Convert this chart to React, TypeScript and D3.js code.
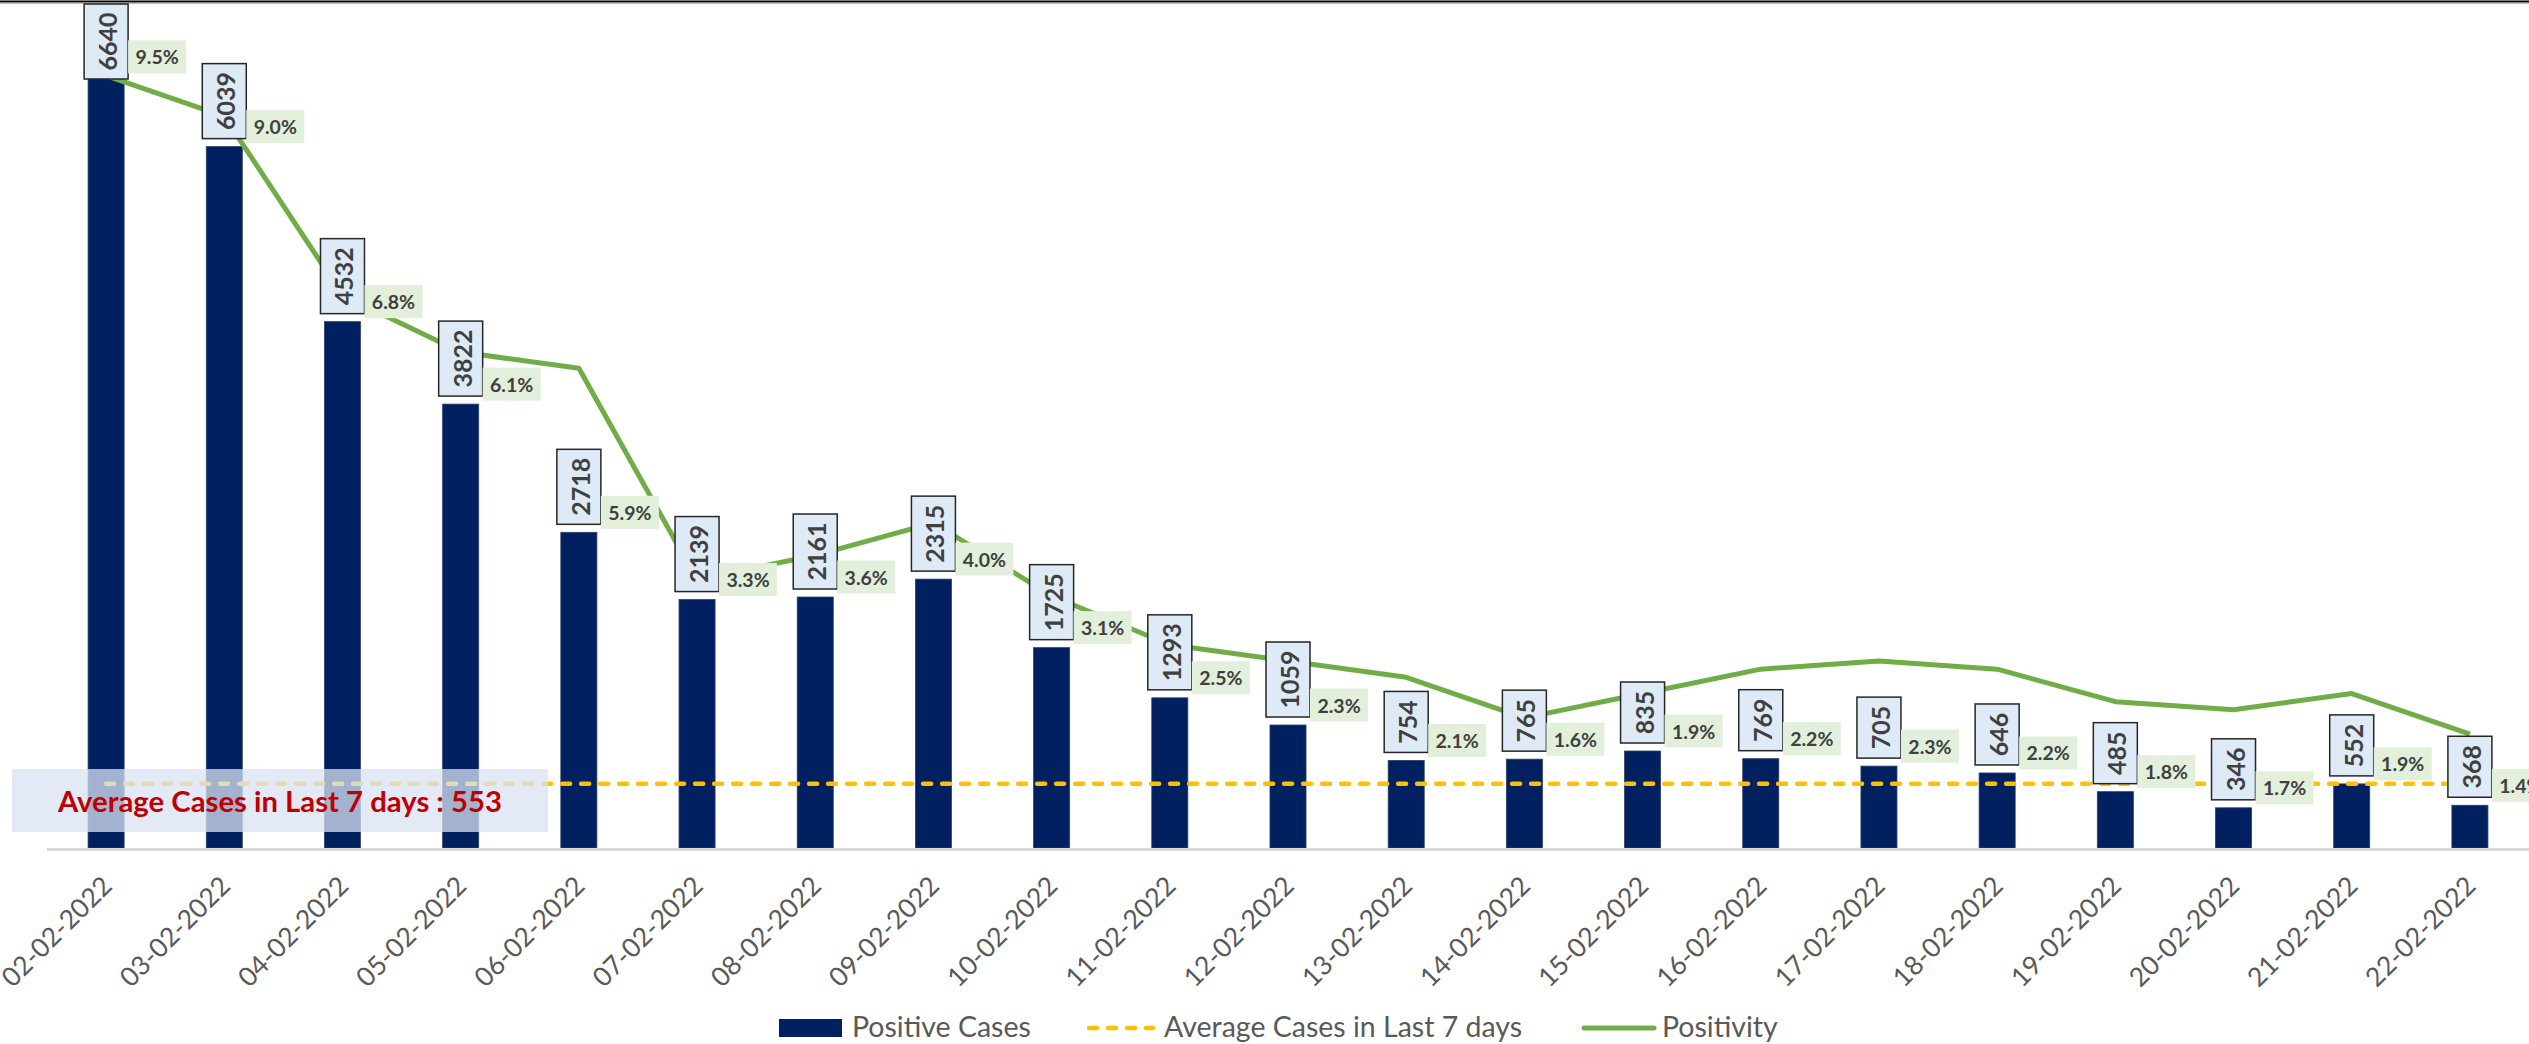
import React from "react";
import * as d3 from "d3";

const dates = [
  "02-02-2022", "03-02-2022", "04-02-2022", "05-02-2022", "06-02-2022", "07-02-2022",
  "08-02-2022", "09-02-2022", "10-02-2022", "11-02-2022", "12-02-2022", "13-02-2022",
  "14-02-2022", "15-02-2022", "16-02-2022", "17-02-2022", "18-02-2022", "19-02-2022",
  "20-02-2022", "21-02-2022", "22-02-2022",
];
const positiveCases = [
  6640, 6039, 4532, 3822, 2718, 2139, 2161, 2315, 1725, 1293, 1059, 754, 765, 835, 769,
  705, 646, 485, 346, 552, 368,
];
const positivity = [
  0.095, 0.09, 0.068, 0.061, 0.059, 0.033, 0.036, 0.04, 0.031, 0.025, 0.023, 0.021, 0.016,
  0.019, 0.022, 0.023, 0.022, 0.018, 0.017, 0.019, 0.014,
];
const casesDomain = [0, 7000];
const positivityDomain = [0, 0.1];
const legendLabels = ["Positive Cases", "Average Cases in Last 7 days", "Positivity"];

const W = 2529;
const H = 1044;
const FONT = "Lato, 'Open Sans', sans-serif";
const BASE = 848;
const TOP = 35;

export default function App() {
  const x = d3
    .scaleBand<string>()
    .domain(dates)
    .range([47, 2529])
    .paddingInner(0.695)
    .paddingOuter(0.3475);
  const y = d3.scaleLinear().domain(casesDomain).range([BASE, TOP]);
  const y2 = d3.scaleLinear().domain(positivityDomain).range([BASE, TOP]);
  const cx = (d: string) => (x(d) as number) + x.bandwidth() / 2;

  const avg = Math.round(d3.mean(positiveCases.slice(-7)) as number);

  const line = d3
    .line<number>()
    .x((_, i) => cx(dates[i]))
    .y((p) => y2(p));

  const fmtPct = d3.format(".1%");

  return (
    <svg
      width={W}
      height={H}
      style={{ position: "absolute", left: 0, top: 0, background: "#fff" }}
      fontFamily={FONT}
    >
      <rect x={0} y={0} width={W} height={H} fill="#fff" />
      {/* top border */}
      <line x1={0} x2={W} y1={1.5} y2={1.5} stroke="#000" strokeWidth={2} />
      <line x1={0} x2={W} y1={3.2} y2={3.2} stroke="#9a9a9a" strokeWidth={1} />

      {/* bars */}
      {positiveCases.map((v, i) => (
        <rect
          key={"b" + i}
          x={x(dates[i])}
          y={y(v)}
          width={x.bandwidth()}
          height={BASE - y(v)}
          fill="#002060"
          stroke="#2b3f6b"
          strokeWidth={0.8}
        />
      ))}

      {/* category axis line */}
      <line x1={47} x2={W} y1={BASE + 1.5} y2={BASE + 1.5} stroke="#d9d9d9" strokeWidth={3} />

      {/* average line */}
      <line
        x1={cx(dates[0])}
        x2={cx(dates[dates.length - 1])}
        y1={y(avg)}
        y2={y(avg)}
        stroke="#ffc000"
        strokeWidth={4.5}
        strokeDasharray="8 11"
        strokeLinecap="round"
      />

      {/* positivity line */}
      <path
        d={line(positivity) as string}
        fill="none"
        stroke="#70ad47"
        strokeWidth={5}
        strokeLinejoin="round"
      />

      {/* average annotation box */}
      <rect x={12} y={769} width={536} height={63} fill="#dae3f3" fillOpacity={0.75} />
      <text
        x={280}
        y={812}
        textAnchor="middle"
        fill="#c00000"
        fontWeight="bold"
        fontSize={28}
        textLength={444}
        lengthAdjust="spacingAndGlyphs"
      >
        {`Average Cases in Last 7 days : ${avg}`}
      </text>

      {/* count labels */}
      {positiveCases.map((v, i) => {
        const s = String(v);
        const h = s.length * 14 + 19;
        const bottom = y(v) - 8;
        const top = Math.max(4, bottom - h);
        const c = cx(dates[i]);
        return (
          <g key={"c" + i}>
            <rect
              x={c - 22}
              y={top}
              width={44}
              height={h}
              fill="#deeaf6"
              stroke="#262626"
              strokeWidth={1.5}
            />
            <text
              transform={`translate(${c + 1},${top + h / 2}) rotate(-90)`}
              textAnchor="middle"
              dominantBaseline="central"
              fontSize={25}
              fontWeight="bold"
              fill="#404040"
            >
              {s}
            </text>
          </g>
        );
      })}

      {/* positivity labels */}
      {positivity.map((p, i) => {
        const c = cx(dates[i]);
        const mid = y(positiveCases[i]) - 20;
        return (
          <g key={"p" + i}>
            <rect x={c + 22} y={mid - 16.5} width={58} height={33} fill="#e2efda" />
            <text
              x={c + 51}
              y={mid}
              textAnchor="middle"
              dominantBaseline="central"
              fontSize={19.5}
              fontWeight="bold"
              fill="#404040"
            >
              {fmtPct(p)}
            </text>
          </g>
        );
      })}

      {/* x labels */}
      {dates.map((d) => (
        <text
          key={"x" + d}
          transform={`translate(${cx(d) + 1},${BASE + 33}) rotate(-45)`}
          textAnchor="end"
          dy="0.35em"
          fontSize={26.5}
          fill="#595959"
        >
          {d}
        </text>
      ))}

      {/* legend */}
      <g>
        <rect x={779} y={1019} width={63} height={18} fill="#002060" />
        <text x={852} y={1037} fontSize={28.5} fill="#595959">
          {legendLabels[0]}
        </text>
        <line
          x1={1089}
          x2={1153}
          y1={1028}
          y2={1028}
          stroke="#ffc000"
          strokeWidth={4.5}
          strokeDasharray="8 11"
          strokeLinecap="round"
        />
        <text x={1164} y={1037} fontSize={28.5} fill="#595959">
          {legendLabels[1]}
        </text>
        <line x1={1584} x2={1654} y1={1028} y2={1028} stroke="#70ad47" strokeWidth={5} strokeLinecap="round" />
        <text x={1662} y={1037} fontSize={28.5} fill="#595959">
          {legendLabels[2]}
        </text>
      </g>
    </svg>
  );
}
